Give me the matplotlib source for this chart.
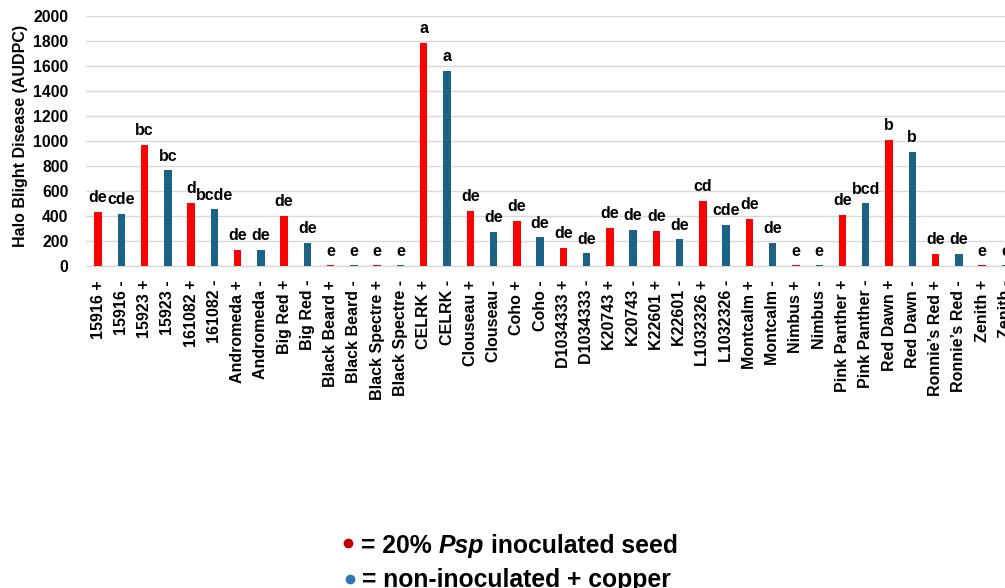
import matplotlib
matplotlib.use("Agg")
import matplotlib.pyplot as plt
from matplotlib.lines import Line2D

plt.rcParams["font.family"] = ["Liberation Sans", "DejaVu Sans"]
plt.rcParams["font.weight"] = "bold"

# Cultivar / treatment combinations (+ = inoculated seed, - = non-inoculated + copper)
categories = [
    "15916 +", "15916 -", "15923 +", "15923 -", "161082 +", "161082 -",
    "Andromeda +", "Andromeda -", "Big Red +", "Big Red -",
    "Black Beard +", "Black Beard -", "Black Spectre +", "Black Spectre -",
    "CELRK +", "CELRK -", "Clouseau +", "Clouseau -", "Coho +", "Coho -",
    "D1034333 +", "D1034333 -", "K20743 +", "K20743 -", "K22601 +", "K22601 -",
    "L1032326 +", "L1032326 -", "Montcalm +", "Montcalm -", "Nimbus +", "Nimbus -",
    "Pink Panther +", "Pink Panther -", "Red Dawn +", "Red Dawn -",
    "Ronnie\u2019s Red +", "Ronnie\u2019s Red -", "Zenith +", "Zenith -",
]

# Area under disease progress curve
audpc = [
    432, 416, 968, 765, 504, 453,
    128, 128, 400, 187,
    5, 5, 5, 5,
    1787, 1560, 440, 275, 360, 229,
    144, 101, 304, 291, 280, 213,
    520, 328, 376, 187, 5, 5,
    408, 501, 1008, 912,
    96, 96, 5, 5,
]

# Mean separation letters
letters = [
    "de", "cde", "bc", "bc", "d", "bcde",
    "de", "de", "de", "de",
    "e", "e", "e", "e",
    "a", "a", "de", "de", "de", "de",
    "de", "de", "de", "de", "de", "de",
    "cd", "cde", "de", "de", "e", "e",
    "de", "bcd", "b", "b",
    "de", "de", "e", "e",
]

yticks = list(range(0, 2001, 200))

RED = "#FF0000"
BLUE = "#1B6386"
colors = [RED if c.endswith("+") else BLUE for c in categories]

fig = plt.figure(figsize=(10.05, 5.88), dpi=100)
W, H = 1005, 588
ax_left, ax_right = 86.4, 1017.0
ax = fig.add_axes([ax_left / W, 1 - 266 / H, (ax_right - ax_left) / W, 250 / H])

x = list(range(len(categories)))
ax.bar(x, audpc, width=0.32, color=colors, zorder=3)

ax.set_xlim(-0.5, len(categories) - 0.5)
ax.set_ylim(0, 2000)
ax.set_yticks(yticks)
ax.set_yticklabels([str(v) for v in yticks], fontsize=11.3, fontweight="bold")
ax.set_xticks(x)
ax.set_xticklabels(categories, rotation=90, fontsize=11.5, fontweight="bold",
                   va="top", ha="center")
ax.tick_params(axis="both", length=0)
ax.tick_params(axis="y", pad=13)
ax.tick_params(axis="x", pad=10)

ax.grid(axis="y", color="#D9D9D9", linewidth=1.0, zorder=0)
for side in ("top", "right", "left"):
    ax.spines[side].set_visible(False)
ax.spines["bottom"].set_color("#D9D9D9")
ax.spines["bottom"].set_linewidth(1.0)

ax.set_ylabel("Halo Blight Disease (AUDPC)", fontsize=11.5, fontweight="bold",
              va="center")
ax.yaxis.set_label_coords((20 - ax_left) / (ax_right - ax_left), 0.52)

for xi, v, lab in zip(x, audpc, letters):
    ax.annotate(lab, (xi, v), xytext=(0, 7), textcoords="offset points",
                ha="center", va="baseline", fontsize=11.5, fontweight="bold",
                zorder=4)

# Colour key below the chart
fig.canvas.draw()
renderer = fig.canvas.get_renderer()
fs = 17.8
space_px = fs * 100 / 72 * 0.278


def key_line(dot_xy, dot_color, start_x, baseline_y, pieces):
    fig.add_artist(Line2D([dot_xy[0] / W], [1 - dot_xy[1] / H], marker="o",
                          markersize=6, color=dot_color, linestyle="none",
                          transform=fig.transFigure))
    cur = start_x
    for txt, style in pieces:
        t = fig.text(cur / W, 1 - baseline_y / H, txt, fontsize=fs,
                     fontweight="bold", fontstyle=style, ha="left",
                     va="baseline")
        w = t.get_window_extent(renderer).width
        cur += w + space_px


key_line((348, 543), "#C00000", 361, 553,
         [("= 20%", "normal"), ("Psp", "italic"), ("inoculated seed", "normal")])
key_line((350, 579), "#2E75B6", 362, 587,
         [("= non-inoculated + copper", "normal")])

fig.savefig("out.png", dpi=100)
